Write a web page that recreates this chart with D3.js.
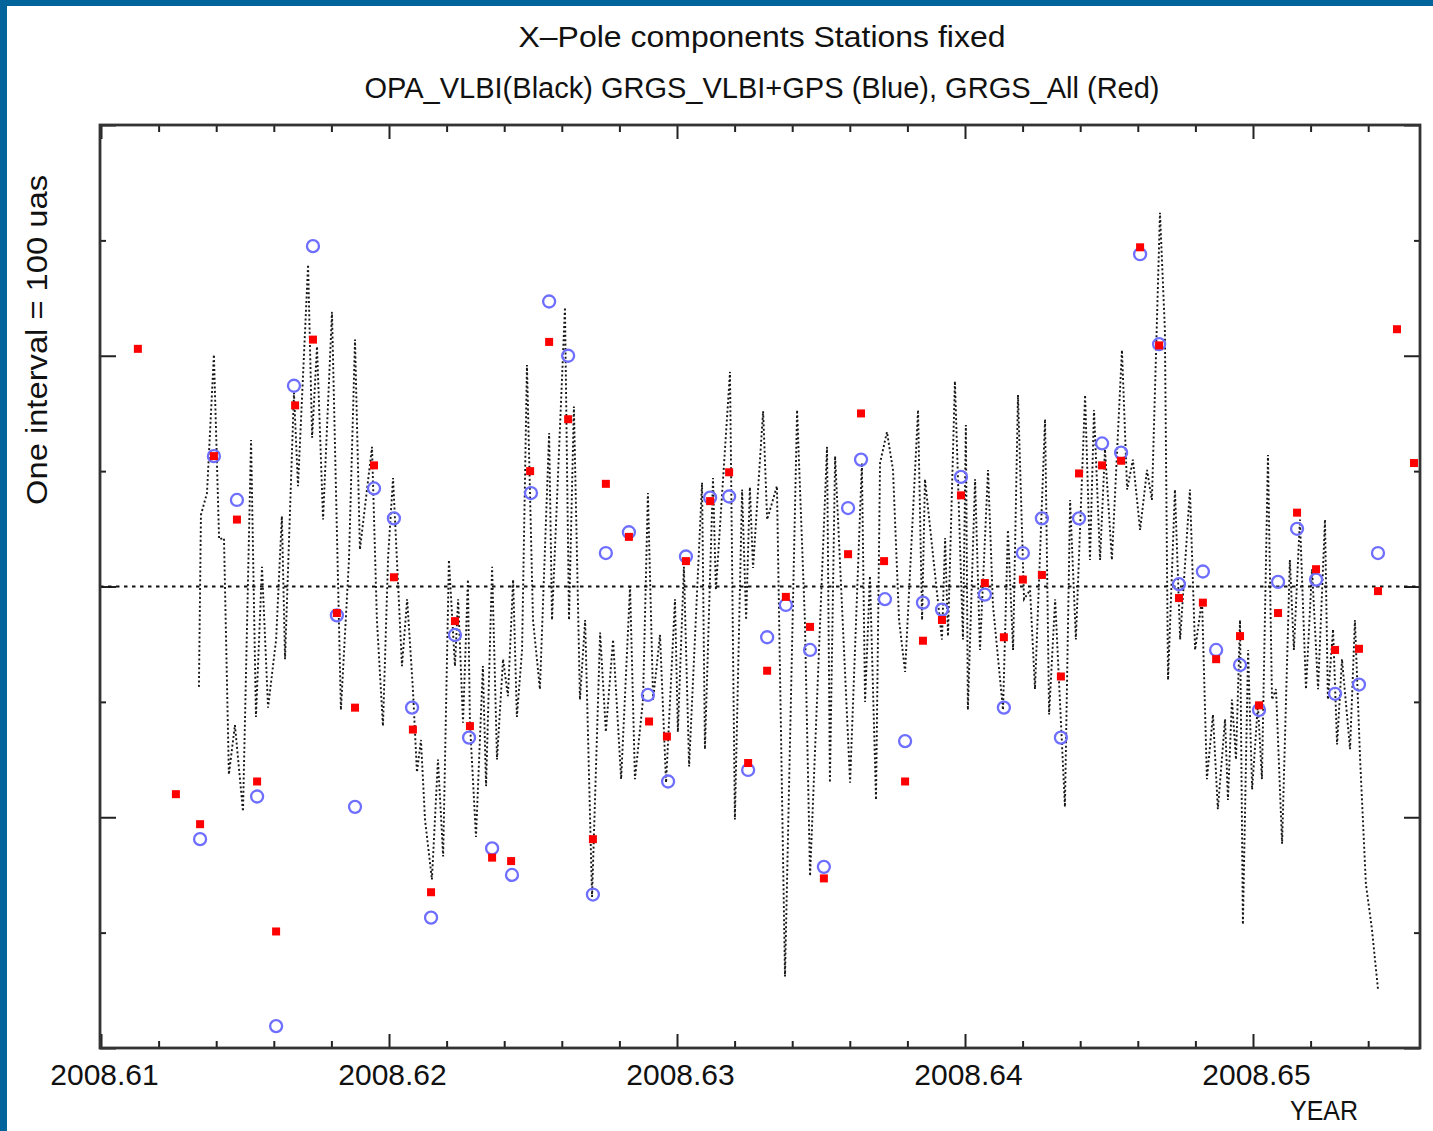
<!DOCTYPE html>
<html><head><meta charset="utf-8">
<script src="https://cdn.jsdelivr.net/npm/d3@7"></script>
<style>html,body{margin:0;padding:0;background:#fff;overflow:hidden} svg{display:block}</style>
</head><body>
<svg id="c" width="1433" height="1131"></svg>
<script>
// ---------------- DATA ----------------
const titleLines = ["X\u2013Pole components Stations fixed",
                    "OPA_VLBI(Black) GRGS_VLBI+GPS (Blue), GRGS_All (Red)"];
const yLabel = "One interval = 100 uas";
const xLabel = "YEAR";

const xMajorTicks = [2008.61, 2008.62, 2008.63, 2008.64, 2008.65];
const xMinorTicks = [2008.612, 2008.614, 2008.616, 2008.618,
                     2008.622, 2008.624, 2008.626, 2008.628,
                     2008.632, 2008.634, 2008.636, 2008.638,
                     2008.642, 2008.644, 2008.646, 2008.648,
                     2008.652, 2008.654];
const yMajorTicks = [-400, -200, 0, 200, 400];
const yMinorTicks = [-300, -100, 100, 300];

// OPA_VLBI (black dotted line): time (year), value (uas)
const blackT = [
 2008.61340,2008.61347,2008.61368,2008.61392,2008.61410,2008.61427,2008.61444,2008.61465,2008.61493,2008.61521,
 2008.61538,2008.61559,2008.61580,2008.61608,2008.61628,2008.61639,2008.61670,2008.61684,2008.61719,2008.61733,
 2008.61750,2008.61771,2008.61802,2008.61833,2008.61861,2008.61882,2008.61899,2008.61941,2008.61958,2008.61979,
 2008.61997,2008.62014,2008.62045,2008.62063,2008.62083,2008.62097,2008.62111,2008.62125,2008.62149,2008.62170,
 2008.62188,2008.62208,2008.62229,2008.62240,2008.62257,2008.62274,2008.62281,2008.62302,2008.62326,2008.62337,
 2008.62358,2008.62375,2008.62396,2008.62413,2008.62431,2008.62444,2008.62462,2008.62479,2008.62500,2008.62524,
 2008.62556,2008.62566,2008.62611,2008.62625,2008.62642,2008.62663,2008.62681,2008.62705,2008.62733,2008.62753,
 2008.62778,2008.62806,2008.62837,2008.62854,2008.62882,2008.62899,2008.62917,2008.62941,2008.62962,2008.62993,
 2008.63003,2008.63024,2008.63042,2008.63087,2008.63097,2008.63125,2008.63135,2008.63184,2008.63201,2008.63226,
 2008.63240,2008.63253,2008.63264,2008.63299,2008.63313,2008.63347,2008.63375,2008.63417,2008.63444,2008.63462,
 2008.63521,2008.63531,2008.63549,2008.63601,2008.63642,2008.63653,2008.63670,2008.63691,2008.63705,2008.63729,
 2008.63750,2008.63771,2008.63792,2008.63837,2008.63851,2008.63861,2008.63920,2008.63931,2008.63941,2008.63965,
 2008.63993,2008.64003,2008.64010,2008.64035,2008.64052,2008.64080,2008.64097,2008.64132,2008.64149,2008.64167,
 2008.64184,2008.64205,2008.64226,2008.64243,2008.64278,2008.64292,2008.64313,2008.64347,2008.64365,2008.64385,
 2008.64417,2008.64434,2008.64448,2008.64469,2008.64486,2008.64510,2008.64545,2008.64563,2008.64583,2008.64608,
 2008.64632,2008.64649,2008.64677,2008.64694,2008.64705,2008.64729,2008.64747,2008.64781,2008.64799,2008.64823,
 2008.64840,2008.64861,2008.64878,2008.64903,2008.64913,2008.64927,2008.64941,2008.64955,2008.64965,2008.64983,
 2008.64997,2008.65017,2008.65031,2008.65052,2008.65066,2008.65080,2008.65101,2008.65128,2008.65142,2008.65163,
 2008.65184,2008.65205,2008.65226,2008.65250,2008.65260,2008.65278,2008.65292,2008.65309,2008.65337,2008.65354,
 2008.65372,2008.65392,2008.65413,2008.65434];
const blackV = [
 -87,62,81,201,41,42,-163,-120,-195,127,
 -113,17,-105,-46,61,-63,168,87,279,129,
 208,58,238,-107,23,214,32,121,-29,-121,
 26,94,-69,-11,-89,-161,-133,-202,-254,-150,
 -234,23,-69,-11,-118,6,-118,-217,-69,-173,
 17,-150,-63,-95,6,-113,-55,192,-29,-89,
 133,-29,242,-29,156,-98,-29,-269,-40,-126,
 -46,-167,0,-167,-98,81,-98,-42,-170,-11,
 -126,17,-156,90,-141,94,-3,186,-202,84,
 -29,86,16,152,58,87,-338,153,-29,-251,
 121,-170,113,-170,107,-100,9,-185,107,134,
 101,-29,-74,153,-29,93,-46,42,-43,178,
 -46,140,-107,93,-55,101,-16,-107,49,-55,
 166,-11,-3,-89,145,-111,-11,-191,75,-46,
 166,23,153,23,119,23,205,84,110,49,
 101,75,324,223,-81,84,-46,84,-55,-11,
 -167,-111,-193,-115,-185,-98,-150,-29,-293,-55,
 -176,-102,-167,114,-98,-89,-223,23,-55,58,
 -89,15,-89,58,-98,-37,-137,-63,-141,-29,
 -150,-258,-297,-349];

// GRGS_VLBI+GPS (blue circles)
const blueT = [
 2008.61344,2008.61392,2008.61472,2008.61542,2008.61608,2008.61670,2008.61736,2008.61819,2008.61882,2008.61948,
 2008.62017,2008.62080,2008.62146,2008.62229,2008.62278,2008.62358,2008.62427,2008.62493,2008.62556,2008.62622,
 2008.62708,2008.62753,2008.62833,2008.62899,2008.62969,2008.63031,2008.63115,2008.63181,2008.63247,2008.63313,
 2008.63378,2008.63462,2008.63510,2008.63594,2008.63639,2008.63722,2008.63792,2008.63854,2008.63920,2008.63986,
 2008.64069,2008.64135,2008.64201,2008.64267,2008.64333,2008.64396,2008.64476,2008.64542,2008.64608,2008.64674,
 2008.64743,2008.64826,2008.64872,2008.64955,2008.65021,2008.65087,2008.65153,2008.65219,2008.65285,2008.65368,
 2008.65434];
const blueV = [
 -219,113,75,-182,-381,174,295,-25,-191,85,
 59,-105,-287,-42,-131,-227,-250,81,247,200,
 -267,29,47,-94,-169,26,77,78,-159,-44,
 -16,-55,-243,68,110,-11,-134,-14,-20,95,
 -7,-105,29,59,-131,59,124,116,288,210,
 2,13,-55,-68,-107,4,50,6,-93,-85,
 29];

// GRGS_All (red squares)
const redT = [
 2008.61128,2008.61260,2008.61344,2008.61392,2008.61472,2008.61542,2008.61608,2008.61674,2008.61736,2008.61819,
 2008.61882,2008.61948,2008.62017,2008.62083,2008.62146,2008.62229,2008.62281,2008.62358,2008.62424,2008.62490,
 2008.62556,2008.62622,2008.62708,2008.62753,2008.62833,2008.62903,2008.62965,2008.63031,2008.63115,2008.63181,
 2008.63247,2008.63313,2008.63378,2008.63462,2008.63510,2008.63594,2008.63639,2008.63719,2008.63792,2008.63854,
 2008.63920,2008.63986,2008.64069,2008.64135,2008.64201,2008.64267,2008.64333,2008.64396,2008.64476,2008.64542,
 2008.64608,2008.64674,2008.64743,2008.64826,2008.64872,2008.64955,2008.65021,2008.65087,2008.65153,2008.65219,
 2008.65285,2008.65368,2008.65434,2008.65500,2008.65559];
const redV = [
 206,-180,-206,113,58,-169,-299,157,214,-23,
 -105,105,8,-124,-265,-30,-121,-235,-238,100,
 212,145,-219,89,43,-117,-130,22,74,99,
 -153,-73,-9,-35,-253,28,150,22,-169,-47,
 -29,79,3,-44,6,10,-78,98,105,109,
 294,209,-10,-14,-63,-43,-103,-23,64,15,
 -55,-54,-4,223,107];

// ---------------- DRAW ----------------
const svg = d3.select("#c");
const W = 1433, H = 1131;
const L = 100, R = 1420, T = 125, B = 1048;
const FONT = "'Liberation Sans', Arial, Helvetica, sans-serif";

svg.append("rect").attr("x",0).attr("y",0).attr("width",W).attr("height",H).attr("fill","#fff");
// blue frame (top and left)
svg.append("rect").attr("x",0).attr("y",0).attr("width",W).attr("height",6).attr("fill","#03649b");
svg.append("rect").attr("x",0).attr("y",0).attr("width",7).attr("height",H).attr("fill","#03649b");

const x = d3.scaleLinear().domain([2008.609965, 2008.655799]).range([L, R]);
const y = d3.scaleLinear().domain([-400, 400]).range([B, T]);

// axes (ticks pointing inward)
function styleAxis(g){
  g.select(".domain").remove();
  g.selectAll(".tick line").attr("stroke","#222").attr("stroke-width",2);
}
svg.append("g").attr("transform",`translate(0,${B})`)
  .call(d3.axisBottom(x).tickValues(xMinorTicks).tickSize(-7).tickFormat(""))
  .call(styleAxis);
const bx = svg.append("g").attr("transform",`translate(0,${B})`)
  .call(d3.axisBottom(x).tickValues(xMajorTicks).tickSize(-14).tickFormat(d3.format(".2f")))
  .call(styleAxis);
bx.selectAll(".tick text").attr("y",37).attr("dy",0).attr("dx",3)
  .attr("font-family",FONT).attr("font-size",30).attr("fill","#111");

svg.append("g").attr("transform",`translate(0,${T})`)
  .call(d3.axisTop(x).tickValues(xMinorTicks).tickSize(-7).tickFormat("")).call(styleAxis);
svg.append("g").attr("transform",`translate(0,${T})`)
  .call(d3.axisTop(x).tickValues(xMajorTicks).tickSize(-14).tickFormat("")).call(styleAxis);

svg.append("g").attr("transform",`translate(${L},0)`)
  .call(d3.axisLeft(y).tickValues(yMinorTicks).tickSize(-6).tickFormat("")).call(styleAxis);
svg.append("g").attr("transform",`translate(${L},0)`)
  .call(d3.axisLeft(y).tickValues(yMajorTicks).tickSize(-16).tickFormat("")).call(styleAxis);
svg.append("g").attr("transform",`translate(${R},0)`)
  .call(d3.axisRight(y).tickValues(yMinorTicks).tickSize(-6).tickFormat("")).call(styleAxis);
svg.append("g").attr("transform",`translate(${R},0)`)
  .call(d3.axisRight(y).tickValues(yMajorTicks).tickSize(-16).tickFormat("")).call(styleAxis);

// zero line
svg.append("line")
  .attr("x1", x.range()[0]).attr("x2", x.range()[1])
  .attr("y1", y(0)).attr("y2", y(0))
  .attr("stroke","#111").attr("stroke-width",2.2).attr("stroke-dasharray","3.5 4.5");

// black dotted series
const blackData = blackT.map((t,i)=>({t, v: blackV[i]})).filter(d=>d.v!==undefined);
svg.append("path").datum(blackData)
  .attr("d", d3.line().x(d=>x(d.t)).y(d=>y(d.v)))
  .attr("fill","none").attr("stroke","#161616").attr("stroke-width",1.9)
  .attr("stroke-dasharray","2 2.4");

// blue circles
svg.append("g").selectAll("circle")
  .data(blueT.map((t,i)=>({t, v: blueV[i]})))
  .join("circle")
  .attr("cx", d=>x(d.t)).attr("cy", d=>y(d.v)).attr("r", 6)
  .attr("fill","none").attr("stroke","#6e6eff").attr("stroke-width",2.3);

// red squares
svg.append("g").selectAll("rect")
  .data(redT.map((t,i)=>({t, v: redV[i]})))
  .join("rect")
  .attr("x", d=>x(d.t)-4).attr("y", d=>y(d.v)-4)
  .attr("width",8).attr("height",8).attr("fill","#ff0000");

// frame
svg.append("rect").attr("x",L).attr("y",T).attr("width",R-L).attr("height",B-T)
  .attr("fill","none").attr("stroke","#333").attr("stroke-width",2.8);

// titles
svg.append("text").text(titleLines[0])
  .attr("x",762).attr("y",47).attr("text-anchor","middle")
  .attr("font-family",FONT).attr("font-size",30).attr("fill","#111")
  .attr("textLength",487).attr("lengthAdjust","spacingAndGlyphs");
svg.append("text").text(titleLines[1])
  .attr("x",762).attr("y",98).attr("text-anchor","middle")
  .attr("font-family",FONT).attr("font-size",30).attr("fill","#111")
  .attr("textLength",795).attr("lengthAdjust","spacingAndGlyphs");

// y label
svg.append("text").text(yLabel)
  .attr("transform","translate(47,340) rotate(-90)")
  .attr("text-anchor","middle")
  .attr("font-family",FONT).attr("font-size",30).attr("fill","#111")
  .attr("textLength",330).attr("lengthAdjust","spacingAndGlyphs");

// x label
svg.append("text").text(xLabel)
  .attr("x",1324).attr("y",1120).attr("text-anchor","middle")
  .attr("font-family",FONT).attr("font-size",27).attr("fill","#111")
  .attr("textLength",68).attr("lengthAdjust","spacingAndGlyphs");
</script>
</body></html>
